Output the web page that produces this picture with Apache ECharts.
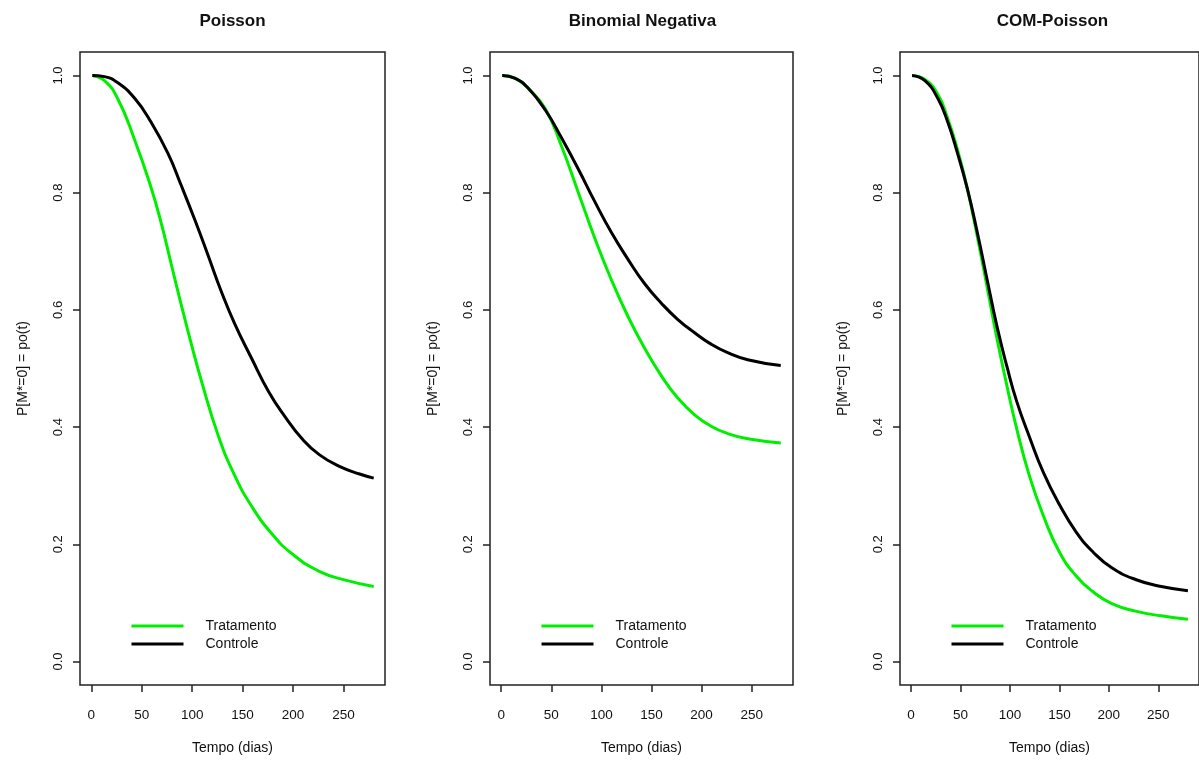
<!DOCTYPE html>
<html>
<head>
<meta charset="utf-8">
<title>P[M*=0] = po(t)</title>
<script src="https://cdn.jsdelivr.net/npm/echarts@6/dist/echarts.min.js"></script>
<style>
  html, body { margin: 0; padding: 0; background: #fff; }
  #chart { width: 1199px; height: 760px; }
</style>
</head>
<body>
<div id="chart"></div>
<script>
// Model titles and series names
const modelos = ['Poisson', 'Binomial Negativa', 'COM-Poisson'];
const grupos = ['Tratamento', 'Controle'];

// Tick labels
const xTicks = [0, 50, 100, 150, 200, 250];
const yTicks = [0, 0.2, 0.4, 0.6, 0.8, 1.0];

// Poisson
const poissonTratTempo = [1, 13, 26, 43, 59, 69, 79, 89, 99, 109, 126, 142, 159, 179, 199, 226, 252, 280];
const poissonTratProb  = [1.0, 0.991, 0.961, 0.890, 0.810, 0.750, 0.680, 0.610, 0.543, 0.480, 0.385, 0.318, 0.265, 0.218, 0.184, 0.154, 0.139, 0.128];
const poissonCtrlTempo = [1, 13, 26, 43, 59, 76, 89, 103, 116, 129, 142, 159, 176, 192, 209, 226, 246, 266, 280];
const poissonCtrlProb  = [1.0, 0.998, 0.988, 0.961, 0.921, 0.867, 0.813, 0.752, 0.692, 0.631, 0.577, 0.517, 0.460, 0.418, 0.380, 0.353, 0.333, 0.320, 0.313];

// Binomial Negativa
const bnTempo    = [1, 14, 27, 44, 60, 77, 93, 110, 127, 143, 160, 176, 193, 209, 226, 246, 279];
const bnTratProb = [1.0, 0.995, 0.978, 0.943, 0.880, 0.800, 0.724, 0.651, 0.587, 0.535, 0.487, 0.450, 0.421, 0.402, 0.389, 0.380, 0.373];
const bnCtrlProb = [1.0, 0.995, 0.978, 0.941, 0.894, 0.840, 0.786, 0.732, 0.685, 0.645, 0.611, 0.584, 0.561, 0.542, 0.527, 0.515, 0.505];

// COM-Poisson
const cmpTempo    = [1, 14, 27, 37, 47, 57, 67, 77, 87, 97, 107, 120, 134, 150, 167, 184, 203, 227, 253, 280];
const cmpTratProb = [1.0, 0.993, 0.968, 0.927, 0.873, 0.806, 0.725, 0.638, 0.550, 0.470, 0.396, 0.315, 0.248, 0.187, 0.146, 0.119, 0.099, 0.086, 0.078, 0.072];
const cmpCtrlProb = [1.0, 0.991, 0.961, 0.921, 0.867, 0.806, 0.732, 0.651, 0.571, 0.503, 0.443, 0.382, 0.322, 0.268, 0.221, 0.187, 0.160, 0.140, 0.128, 0.121];

const pares = (t, p) => t.map((v, i) => [v, p[i]]);

const curvas = [
  [pares(poissonTratTempo, poissonTratProb), pares(poissonCtrlTempo, poissonCtrlProb)],
  [pares(bnTempo, bnTratProb), pares(bnTempo, bnCtrlProb)],
  [pares(cmpTempo, cmpTratProb), pares(cmpTempo, cmpCtrlProb)]
];

const cores = ['#00ee00', '#000000'];
const FONT = '"Liberation Sans", Arial, sans-serif';
const TEXT = '#111';

// panel layout
const TOP = 52, ALTURA = 635;
const paineis = [
  { left: 80, width: 305 },
  { left: 490, width: 303 },
  { left: 900, width: 303 }
];

const grid = [], xAxis = [], yAxis = [], series = [], legend = [], graphic = [];

paineis.forEach((p, i) => {
  grid.push({
    left: p.left, top: TOP, width: p.width, height: ALTURA,
    show: true, borderColor: '#222', borderWidth: 1.5, backgroundColor: '#fff'
  });
  xAxis.push({
    type: 'value', gridIndex: i, min: -11.2, max: 291.2, position: 'bottom',
    name: 'Tempo (dias)', nameLocation: 'middle', nameGap: 56,
    nameTextStyle: { fontFamily: FONT, fontSize: 14, color: TEXT },
    axisLine: { show: false, onZero: false },
    axisTick: { show: true, inside: false, length: 7, customValues: xTicks, lineStyle: { color: '#222', width: 1.5 } },
    axisLabel: { customValues: xTicks, margin: 23, fontFamily: FONT, fontSize: 13.5, color: TEXT },
    splitLine: { show: false }
  });
  yAxis.push({
    type: 'value', gridIndex: i, min: -0.04, max: 1.04, position: 'left',
    name: 'P[M*=0] = po(t)', nameLocation: 'middle', nameGap: 50, nameRotate: 90,
    nameTextStyle: { fontFamily: FONT, fontSize: 14, color: TEXT },
    axisLine: { show: false, onZero: false },
    axisTick: { show: true, inside: false, length: 7, customValues: yTicks, lineStyle: { color: '#222', width: 1.5 } },
    axisLabel: {
      customValues: yTicks, rotate: 90, margin: 15,
      fontFamily: FONT, fontSize: 13, color: TEXT,
      formatter: v => v.toFixed(1)
    },
    splitLine: { show: false }
  });
  grupos.forEach((g, k) => {
    series.push({
      type: 'line', name: g, xAxisIndex: i, yAxisIndex: i,
      data: curvas[i][k], showSymbol: false, symbol: 'none',
      smooth: 0.5,
      lineStyle: { color: cores[k], width: 3 }, itemStyle: { color: cores[k] },
      z: 2 + k, silent: true, animation: false
    });
  });
  legend.push({
    data: grupos, orient: 'vertical', left: p.left + 46.5, top: 614,
    icon: 'rect', itemWidth: 52, itemHeight: 3, itemGap: 4,
    selectedMode: false,
    textStyle: { fontFamily: FONT, fontSize: 14, color: TEXT, lineHeight: 14, padding: [0, 0, 0, 17] }
  });
  graphic.push({
    type: 'text', x: p.left + 152.5, y: 21,
    style: {
      text: modelos[i], textAlign: 'center', textVerticalAlign: 'middle',
      font: 'bold 17px ' + FONT, fill: TEXT
    }
  });
});

const chart = echarts.init(document.getElementById('chart'), null, { renderer: 'canvas' });
chart.setOption({
  animation: false,
  backgroundColor: '#fff',
  grid, xAxis, yAxis, series, legend, graphic
});
</script>
</body>
</html>
